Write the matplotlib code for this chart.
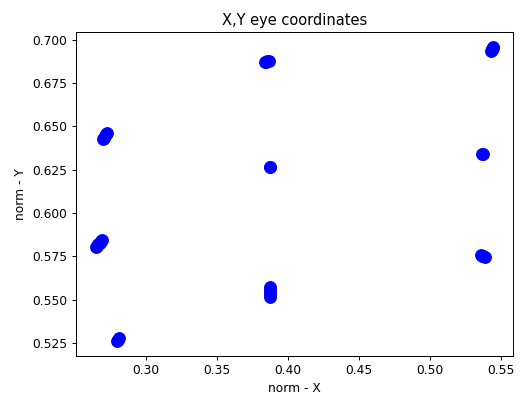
import matplotlib
matplotlib.use("Agg")
import matplotlib.pyplot as plt

# normalised eye coordinates, a few samples per fixation target
norm_x = [0.2697, 0.2705, 0.2713, 0.2720, 0.2725,
          0.2648, 0.2656, 0.2665, 0.2675, 0.2684, 0.2690,
          0.2797, 0.2803, 0.2810,
          0.3835, 0.3845, 0.3855, 0.3865,
          0.3873, 0.3875,
          0.3873, 0.3875, 0.3874, 0.3876, 0.3873,
          0.5432, 0.5437, 0.5441, 0.5445, 0.5436,
          0.5363, 0.5369,
          0.5355, 0.5365, 0.5375, 0.5385]
norm_y = [0.6425, 0.6435, 0.6446, 0.6455, 0.6460,
          0.5805, 0.5812, 0.5820, 0.5830, 0.5840, 0.5846,
          0.5262, 0.5268, 0.5280,
          0.6870, 0.6874, 0.6877, 0.6880,
          0.6264, 0.6267,
          0.5515, 0.5530, 0.5545, 0.5560, 0.5575,
          0.6935, 0.6945, 0.6952, 0.6960, 0.6938,
          0.6338, 0.6342,
          0.5760, 0.5755, 0.5750, 0.5745]

dpi = 88
fig, ax = plt.subplots(figsize=(521 / dpi, 394 / dpi), dpi=dpi)
fig.subplots_adjust(left=0.146, right=0.985, top=0.919, bottom=0.097)

ax.scatter(norm_x, norm_y, color='blue', s=90)

ax.set_title('X,Y eye coordinates')
ax.set_xlabel('norm - X')
ax.set_ylabel('norm - Y')

plt.savefig('out.png', dpi=dpi)
